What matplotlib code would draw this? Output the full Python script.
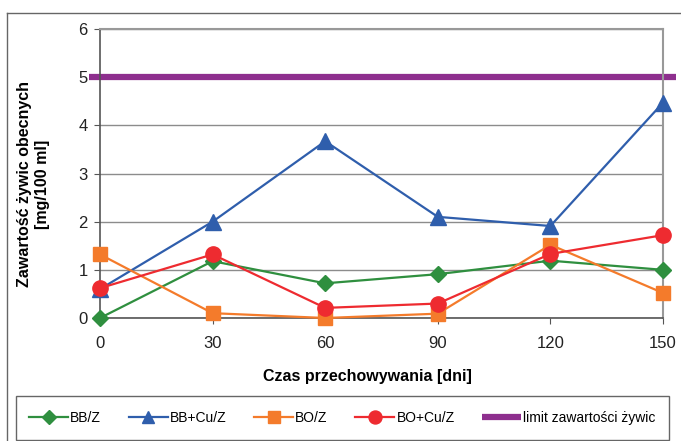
import matplotlib.pyplot as plt
from matplotlib.lines import Line2D
from matplotlib.patches import Rectangle

days = [0, 30, 60, 90, 120, 150]
bb_z = [0.0, 1.18, 0.72, 0.91, 1.19, 1.0]
bb_cu_z = [0.6, 2.0, 3.67, 2.1, 1.91, 4.47]
bo_z = [1.32, 0.1, 0.0, 0.09, 1.52, 0.52]
bo_cu_z = [0.62, 1.32, 0.21, 0.3, 1.33, 1.72]
limit = 5.0

series_labels = ["BB/Z", "BB+Cu/Z", "BO/Z", "BO+Cu/Z", "limit zawartości żywic"]

plt.rcParams['font.family'] = ['Liberation Sans', 'DejaVu Sans']

W, H = 681, 441
fig = plt.figure(figsize=(W / 100, H / 100), dpi=100)

left, right, top, bottom = 100, 663, 29, 318
ax = fig.add_axes([left / W, 1 - bottom / H, (right - left) / W, (bottom - top) / H])

ax.set_xlim(0, 150)
ax.set_ylim(0, 6)
ax.set_xticks(days)
ax.set_yticks(range(0, 7))
ax.yaxis.grid(True, color='#8c8c8c', linewidth=1.0)
ax.set_axisbelow(True)

for s in ['left', 'bottom']:
    ax.spines[s].set_color('#555555')
    ax.spines[s].set_linewidth(1.2)
for s in ['top', 'right']:
    ax.spines[s].set_color('#999999')
    ax.spines[s].set_linewidth(1.5)

ax.tick_params(axis='both', direction='out', length=4, color='#555555',
               labelsize=12, labelcolor='#222222')
ax.tick_params(axis='x', pad=9)
ax.tick_params(axis='y', pad=5)

green = '#2f8f3f'
blue = '#2f5eac'
orange = '#f47b2b'
red = '#ee2b30'
purple = '#8e2f8e'

h1, = ax.plot(days, bb_z, color=green, marker='D', markersize=8, linewidth=1.6,
              clip_on=False, zorder=3)
h2, = ax.plot(days, bb_cu_z, color=blue, marker='^', markersize=11, linewidth=1.6,
              clip_on=False, zorder=3)
h3, = ax.plot(days, bo_z, color=orange, marker='s', markersize=10, linewidth=1.6,
              clip_on=False, zorder=3)
h4, = ax.plot(days, bo_cu_z, color=red, marker='o', markersize=11, linewidth=1.6,
              clip_on=False, zorder=4)
h5, = ax.plot([-3.0, 153.5], [limit, limit], color=purple, linewidth=4.5,
              clip_on=False, zorder=2, solid_capstyle='butt')

ax.set_xlabel("Czas przechowywania [dni]", fontsize=11.5, fontweight='bold')
ax.xaxis.set_label_coords((367 - left) / (right - left), -(369 - bottom) / (bottom - top))
ax.set_ylabel("Zawartość żywic obecnych\n[mg/100 ml]", fontsize=11.5, fontweight='bold',
              linespacing=1.25)
ax.yaxis.set_label_coords(-(left - 50) / (right - left), (bottom - 184) / (bottom - top))

# outer chart frame (top and left edges)
fig.add_artist(Line2D([7 / W, 1.0], [1 - 13 / H, 1 - 13 / H], color='#666666', linewidth=1.0))
fig.add_artist(Line2D([7 / W, 7 / W], [0, 1 - 13 / H], color='#666666', linewidth=1.0))

# legend box
lx0, ly0, lx1, ly1 = 16, 396, 669, 440
fig.add_artist(Rectangle((lx0 / W, 1 - ly1 / H), (lx1 - lx0) / W, (ly1 - ly0) / H,
                         fill=False, edgecolor='#666666', linewidth=1.0))
leg = fig.legend([h1, h2, h3, h4, h5], series_labels, ncol=5,
                 loc='center', bbox_to_anchor=((lx0 + lx1) / 2 / W, 1 - (ly0 + ly1) / 2 / H),
                 frameon=False, fontsize=10, handlelength=2.8, handletextpad=0.15,
                 columnspacing=2.0, markerscale=0.85)

fig.savefig("out.png", dpi=100)
